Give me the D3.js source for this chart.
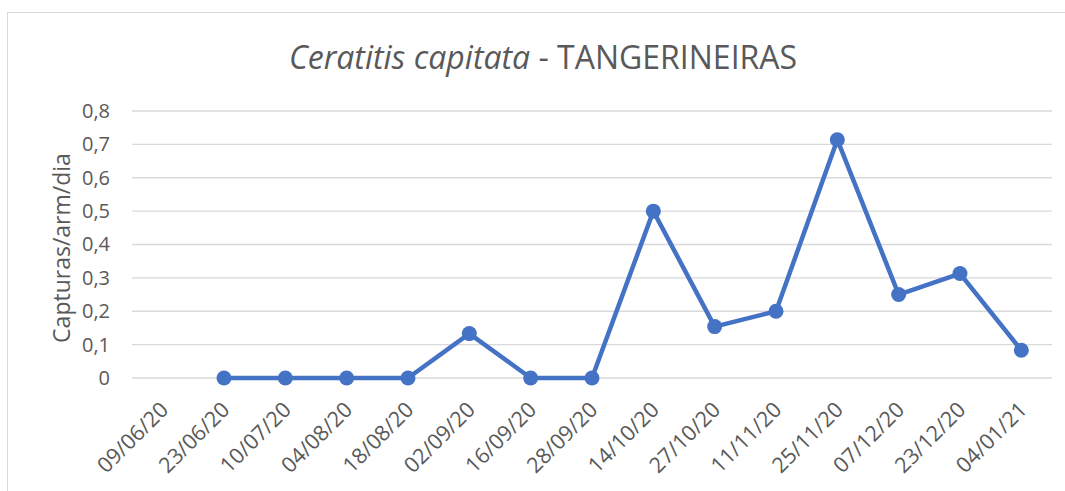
<!DOCTYPE html>
<html>
<head>
<meta charset="utf-8">
<script src="https://cdn.jsdelivr.net/npm/d3@7"></script>
<style>
  body { margin: 0; background: #fff; }
  text { font-family: "Open Sans", sans-serif; fill: #595959; }
</style>
</head>
<body>
<script>
// Data
var dates = ['09/06/20', '23/06/20', '10/07/20', '04/08/20', '18/08/20', '02/09/20', '16/09/20',
  '28/09/20', '14/10/20', '27/10/20', '11/11/20', '25/11/20', '07/12/20', '23/12/20', '04/01/21'];
var captures = [null, 0, 0, 0, 0, 0.133, 0, 0, 0.5, 0.154, 0.2, 0.714, 0.25, 0.313, 0.083];
var yTicks = [0, 0.1, 0.2, 0.3, 0.4, 0.5, 0.6, 0.7, 0.8];

// Layout
var WIDTH = 1065;
var HEIGHT = 491;
var LEFT = 132, RIGHT = 1052, TOP = 111, BOTTOM = 378;
var LINE_COLOR = '#4472C4';

var svg = d3.select('body').append('svg')
  .attr('width', WIDTH)
  .attr('height', HEIGHT);

svg.append('rect')
  .attr('x', 7.5).attr('y', 12.5)
  .attr('width', WIDTH).attr('height', HEIGHT)
  .attr('fill', 'none')
  .attr('stroke', '#d9d9d9');

var x = d3.scaleBand().domain(dates).range([LEFT, RIGHT]);
var y = d3.scaleLinear().domain([0, 0.8]).range([BOTTOM, TOP]);

// gridlines
svg.append('g').selectAll('line')
  .data(yTicks)
  .join('line')
  .attr('x1', LEFT).attr('x2', RIGHT)
  .attr('y1', function (d) { return y(d); })
  .attr('y2', function (d) { return y(d); })
  .attr('stroke', '#d9d9d9')
  .attr('stroke-width', 1.3);

var fmt = function (d) { return d === 0 ? '0' : d3.format('.1f')(d).replace('.', ','); };

var yAxis = svg.append('g')
  .attr('transform', 'translate(' + LEFT + ',0)')
  .call(d3.axisLeft(y).tickValues(yTicks).tickFormat(fmt).tickSize(0).tickPadding(22));
yAxis.select('.domain').remove();
yAxis.selectAll('text')
  .style('font-size', '20px')
  .attr('fill', '#595959');

var xAxis = svg.append('g')
  .attr('transform', 'translate(0,' + BOTTOM + ')')
  .call(d3.axisBottom(x).tickSize(0).tickPadding(0));
xAxis.select('.domain').remove();
xAxis.selectAll('text')
  .style('font-size', '21.5px')
  .attr('fill', '#595959')
  .attr('text-anchor', 'end')
  .attr('dy', 0)
  .attr('transform', 'translate(7,33) rotate(-45)');

// title
var title = svg.append('text')
  .attr('x', 543).attr('y', 69)
  .attr('text-anchor', 'middle')
  .style('font-size', '32px');
title.append('tspan').style('font-style', 'italic').text('Ceratitis capitata');
title.append('tspan').text(' - TANGERINEIRAS');

svg.append('text')
  .attr('transform', 'translate(70,248) rotate(-90)')
  .attr('text-anchor', 'middle')
  .style('font-size', '23px')
  .text('Capturas/arm/dia');

// series
var points = dates.map(function (d, i) { return { date: d, value: captures[i] }; })
  .filter(function (d) { return d.value !== null; });

var line = d3.line()
  .x(function (d) { return x(d.date) + x.bandwidth() / 2; })
  .y(function (d) { return y(d.value); });

svg.append('path')
  .attr('d', line(points))
  .attr('fill', 'none')
  .attr('stroke', LINE_COLOR)
  .attr('stroke-width', 4.5)
  .attr('stroke-linejoin', 'round');

svg.append('g').selectAll('circle')
  .data(points)
  .join('circle')
  .attr('cx', function (d) { return x(d.date) + x.bandwidth() / 2; })
  .attr('cy', function (d) { return y(d.value); })
  .attr('r', 7.5)
  .attr('fill', LINE_COLOR);
</script>
</body>
</html>
